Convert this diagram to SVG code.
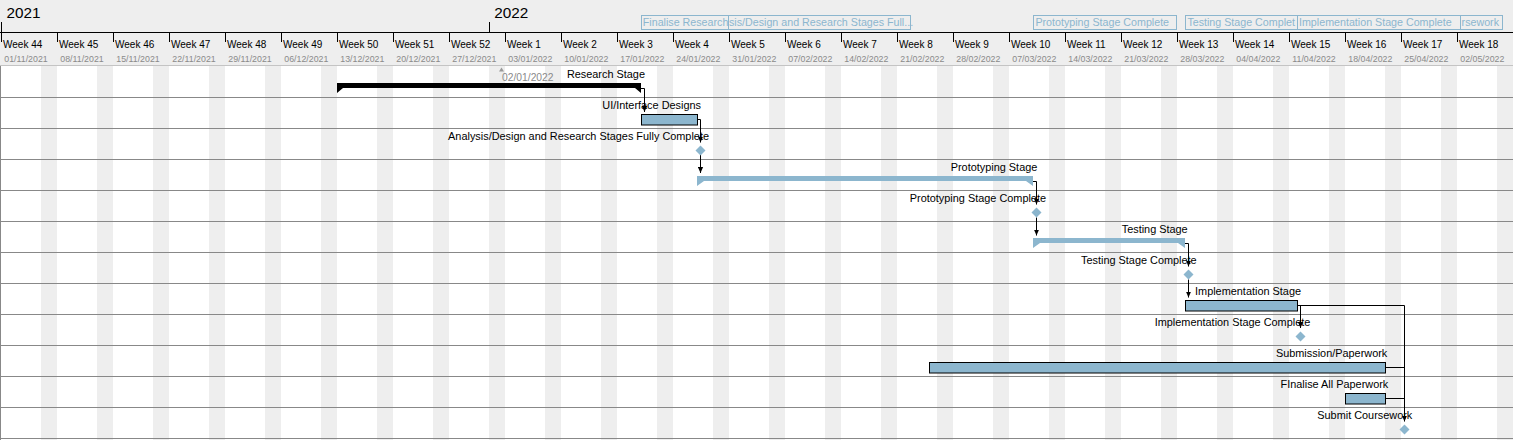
<svg xmlns="http://www.w3.org/2000/svg" width="1513" height="440" viewBox="0 0 1513 440">
<style>
text{font-family:"Liberation Sans",Arial,sans-serif;}
.yr{font-size:15.3px;fill:#000;}
.wk{font-size:10px;fill:#000;}
.dt{font-size:8.8px;fill:#8a8a8a;}
.lbl{font-size:10.9px;fill:#000;text-anchor:end;}
.leg{font-size:10.7px;fill:#8cb6ce;}
.legbox{fill:#eeeeee;stroke:#8cb6ce;stroke-width:1;}
.we{fill:#eeeeee;}
.row{stroke:#888888;stroke-width:1;}
.task{fill:#8cb6ce;stroke:#000;stroke-width:1;}
.sum{fill:#8cb6ce;}
.sumk{fill:#000;}
.ms{fill:#8cb6ce;}
.con{fill:none;stroke:#000;stroke-width:1;}
</style>
<defs>
<marker id="arr" viewBox="0 -3 6 6" refX="6" refY="0" markerWidth="6" markerHeight="6" markerUnits="userSpaceOnUse" orient="auto"><path d="M0,-2.6 L6,0 L0,2.6 Z" fill="#000"/></marker>
</defs>
<rect x="0" y="0" width="1513" height="440" fill="#ffffff"/>
<g id="header">
<rect x="0" y="0" width="1513" height="65" fill="#eeeeee"/>
<text class="yr" x="6.5" y="18.3">2021</text>
<text class="yr" x="494.3" y="18.3">2022</text>
<path d="M1.5,22 V32 M489.5,22 V32" stroke="#000" stroke-width="1"/>
<line x1="0" y1="32.5" x2="1513" y2="32.5" stroke="#000" stroke-width="1"/>
<path d="M1.5,32 V42 M57.5,32 V42 M113.5,32 V42 M169.5,32 V42 M225.5,32 V42 M281.5,32 V42 M337.5,32 V42 M393.5,32 V42 M449.5,32 V42 M505.5,32 V42 M561.5,32 V42 M617.5,32 V42 M673.5,32 V42 M729.5,32 V42 M785.5,32 V42 M841.5,32 V42 M897.5,32 V42 M953.5,32 V42 M1009.5,32 V42 M1065.5,32 V42 M1121.5,32 V42 M1177.5,32 V42 M1233.5,32 V42 M1289.5,32 V42 M1345.5,32 V42 M1401.5,32 V42 M1457.5,32 V42" stroke="#000" stroke-width="1"/>
<text class="wk" x="3" y="48">Week 44</text>
<text class="wk" x="59" y="48">Week 45</text>
<text class="wk" x="115" y="48">Week 46</text>
<text class="wk" x="171" y="48">Week 47</text>
<text class="wk" x="227" y="48">Week 48</text>
<text class="wk" x="283" y="48">Week 49</text>
<text class="wk" x="339" y="48">Week 50</text>
<text class="wk" x="395" y="48">Week 51</text>
<text class="wk" x="451" y="48">Week 52</text>
<text class="wk" x="507" y="48">Week 1</text>
<text class="wk" x="563" y="48">Week 2</text>
<text class="wk" x="619" y="48">Week 3</text>
<text class="wk" x="675" y="48">Week 4</text>
<text class="wk" x="731" y="48">Week 5</text>
<text class="wk" x="787" y="48">Week 6</text>
<text class="wk" x="843" y="48">Week 7</text>
<text class="wk" x="899" y="48">Week 8</text>
<text class="wk" x="955" y="48">Week 9</text>
<text class="wk" x="1011" y="48">Week 10</text>
<text class="wk" x="1067" y="48">Week 11</text>
<text class="wk" x="1123" y="48">Week 12</text>
<text class="wk" x="1179" y="48">Week 13</text>
<text class="wk" x="1235" y="48">Week 14</text>
<text class="wk" x="1291" y="48">Week 15</text>
<text class="wk" x="1347" y="48">Week 16</text>
<text class="wk" x="1403" y="48">Week 17</text>
<text class="wk" x="1459" y="48">Week 18</text>
<text class="dt" x="4.3" y="62">01/11/2021</text>
<text class="dt" x="60.3" y="62">08/11/2021</text>
<text class="dt" x="116.3" y="62">15/11/2021</text>
<text class="dt" x="172.3" y="62">22/11/2021</text>
<text class="dt" x="228.3" y="62">29/11/2021</text>
<text class="dt" x="284.3" y="62">06/12/2021</text>
<text class="dt" x="340.3" y="62">13/12/2021</text>
<text class="dt" x="396.3" y="62">20/12/2021</text>
<text class="dt" x="452.3" y="62">27/12/2021</text>
<text class="dt" x="508.3" y="62">03/01/2022</text>
<text class="dt" x="564.3" y="62">10/01/2022</text>
<text class="dt" x="620.3" y="62">17/01/2022</text>
<text class="dt" x="676.3" y="62">24/01/2022</text>
<text class="dt" x="732.3" y="62">31/01/2022</text>
<text class="dt" x="788.3" y="62">07/02/2022</text>
<text class="dt" x="844.3" y="62">14/02/2022</text>
<text class="dt" x="900.3" y="62">21/02/2022</text>
<text class="dt" x="956.3" y="62">28/02/2022</text>
<text class="dt" x="1012.3" y="62">07/03/2022</text>
<text class="dt" x="1068.3" y="62">14/03/2022</text>
<text class="dt" x="1124.3" y="62">21/03/2022</text>
<text class="dt" x="1180.3" y="62">28/03/2022</text>
<text class="dt" x="1236.3" y="62">04/04/2022</text>
<text class="dt" x="1292.3" y="62">11/04/2022</text>
<text class="dt" x="1348.3" y="62">18/04/2022</text>
<text class="dt" x="1404.3" y="62">25/04/2022</text>
<text class="dt" x="1460.3" y="62">02/05/2022</text>
<line x1="0" y1="65.5" x2="1513" y2="65.5" stroke="#c4c4c4" stroke-width="1"/>
</g>
<g id="legend">
<rect class="legbox" x="641.5" y="15.5" width="87" height="14"/>
<text class="leg" x="642.8" y="26.3">Finalise Research</text>
<rect class="legbox" x="728.5" y="15.5" width="182" height="14"/>
<text class="leg" x="729" y="26.3">sis/Design and Research Stages Full...</text>
<rect class="legbox" x="1033.5" y="15.5" width="143" height="14"/>
<text class="leg" x="1035.4" y="26.3">Prototyping Stage Complete</text>
<rect class="legbox" x="1185.5" y="15.5" width="112" height="14"/>
<text class="leg" x="1187.4" y="26.3">Testing Stage Complet</text>
<rect class="legbox" x="1297.5" y="15.5" width="163" height="14"/>
<text class="leg" x="1299" y="26.3">Implementation Stage Complete</text>
<rect class="legbox" x="1460.5" y="15.5" width="42" height="14"/>
<text class="leg" x="1461.6" y="26.3">rsework</text>
</g>
<g id="grid">
<rect class="we" x="41" y="66" width="16" height="374"/>
<rect class="we" x="97" y="66" width="16" height="374"/>
<rect class="we" x="153" y="66" width="16" height="374"/>
<rect class="we" x="209" y="66" width="16" height="374"/>
<rect class="we" x="265" y="66" width="16" height="374"/>
<rect class="we" x="321" y="66" width="16" height="374"/>
<rect class="we" x="377" y="66" width="16" height="374"/>
<rect class="we" x="433" y="66" width="16" height="374"/>
<rect class="we" x="489" y="66" width="16" height="374"/>
<rect class="we" x="545" y="66" width="16" height="374"/>
<rect class="we" x="601" y="66" width="16" height="374"/>
<rect class="we" x="657" y="66" width="16" height="374"/>
<rect class="we" x="713" y="66" width="16" height="374"/>
<rect class="we" x="769" y="66" width="16" height="374"/>
<rect class="we" x="825" y="66" width="16" height="374"/>
<rect class="we" x="881" y="66" width="16" height="374"/>
<rect class="we" x="937" y="66" width="16" height="374"/>
<rect class="we" x="993" y="66" width="16" height="374"/>
<rect class="we" x="1049" y="66" width="16" height="374"/>
<rect class="we" x="1105" y="66" width="16" height="374"/>
<rect class="we" x="1161" y="66" width="16" height="374"/>
<rect class="we" x="1217" y="66" width="16" height="374"/>
<rect class="we" x="1273" y="66" width="16" height="374"/>
<rect class="we" x="1329" y="66" width="16" height="374"/>
<rect class="we" x="1385" y="66" width="16" height="374"/>
<rect class="we" x="1441" y="66" width="16" height="374"/>
<rect class="we" x="1497" y="66" width="16" height="374"/>
<line class="row" x1="0.5" y1="66" x2="0.5" y2="440"/>
<line class="row" x1="0" y1="97.5" x2="1513" y2="97.5"/>
<line class="row" x1="0" y1="128.5" x2="1513" y2="128.5"/>
<line class="row" x1="0" y1="159.5" x2="1513" y2="159.5"/>
<line class="row" x1="0" y1="190.5" x2="1513" y2="190.5"/>
<line class="row" x1="0" y1="221.5" x2="1513" y2="221.5"/>
<line class="row" x1="0" y1="252.5" x2="1513" y2="252.5"/>
<line class="row" x1="0" y1="283.5" x2="1513" y2="283.5"/>
<line class="row" x1="0" y1="314.5" x2="1513" y2="314.5"/>
<line class="row" x1="0" y1="345.5" x2="1513" y2="345.5"/>
<line class="row" x1="0" y1="376.5" x2="1513" y2="376.5"/>
<line class="row" x1="0" y1="407.5" x2="1513" y2="407.5"/>
<line class="row" x1="0" y1="438.5" x2="1513" y2="438.5"/>
</g>
<g id="date-marker">
<path d="M499,71.5 L504,71.5 L501.5,67.5 Z" fill="#9a9a9a"/>
<text x="502" y="81" font-size="10.3" fill="#8a8a8a">02/01/2022</text>
</g>
<g id="connectors">
<path class="con" d="M641,88.5 H644.5 V112" marker-end="url(#arr)"/>
<path class="con" d="M698,119.5 H700.5 V142.5" marker-end="url(#arr)"/>
<path class="con" d="M700.5,155 V173" marker-end="url(#arr)"/>
<path class="con" d="M1033,181.5 H1036.5 V204.5" marker-end="url(#arr)"/>
<path class="con" d="M1036.5,217.5 V235.5" marker-end="url(#arr)"/>
<path class="con" d="M1185,243.5 H1188.5 V266.5" marker-end="url(#arr)"/>
<path class="con" d="M1188.5,279.5 V297.5" marker-end="url(#arr)"/>
<path class="con" d="M1298,305.5 H1300.5 V328" marker-end="url(#arr)"/>
<path class="con" d="M1298,305.5 H1404.5 V421.5" marker-end="url(#arr)"/>
<path class="con" d="M1386,367.5 H1404.5"/>
<path class="con" d="M1386,398.5 H1404.5"/>
</g>
<g id="task-research">
<path class="sumk" d="M337,83 H641 V93 L635,88 H343 L337,93 Z"/>
<text class="lbl" x="645" y="77.8">Research Stage</text>
</g>
<g id="task-ui">
<rect class="task" x="641.5" y="114.5" width="56" height="10.5"/>
<text class="lbl" x="701" y="108.5">UI/Interface Designs</text>
</g>
<g id="ms-analysis">
<path class="ms" d="M700.5,145.5 L705.5,150.5 L700.5,155.5 L695.5,150.5 Z"/>
<text class="lbl" x="709" y="139.8">Analysis/Design and Research Stages Fully Complete</text>
</g>
<g id="task-prototyping">
<path class="sum" d="M697,176 H1033 V186 L1026,181 H704 L697,186 Z"/>
<text class="lbl" x="1037.3" y="170.7">Prototyping Stage</text>
</g>
<g id="ms-prototyping">
<path class="ms" d="M1036.5,207.5 L1041.5,212.5 L1036.5,217.5 L1031.5,212.5 Z"/>
<text class="lbl" x="1046" y="201.7">Prototyping Stage Complete</text>
</g>
<g id="task-testing">
<path class="sum" d="M1033,238 H1185 V248 L1178,243 H1040 L1033,248 Z"/>
<text class="lbl" x="1187.7" y="232.7">Testing Stage</text>
</g>
<g id="ms-testing">
<path class="ms" d="M1188.5,269.5 L1193.5,274.5 L1188.5,279.5 L1183.5,274.5 Z"/>
<text class="lbl" x="1196.7" y="263.5">Testing Stage Complete</text>
</g>
<g id="task-implementation">
<rect class="task" x="1185.5" y="300.5" width="112" height="10.5"/>
<text class="lbl" x="1301" y="295">Implementation Stage</text>
</g>
<g id="ms-implementation">
<path class="ms" d="M1300.5,331.5 L1305.5,336.5 L1300.5,341.5 L1295.5,336.5 Z"/>
<text class="lbl" x="1310.3" y="325.7">Implementation Stage Complete</text>
</g>
<g id="task-submission">
<rect class="task" x="929.5" y="362.5" width="456" height="10.5"/>
<text class="lbl" x="1387.3" y="356.7">Submission/Paperwork</text>
</g>
<g id="task-finalise">
<rect class="task" x="1345.5" y="393.5" width="40" height="10.5"/>
<text class="lbl" x="1388.3" y="387.7">FInalise All Paperwork</text>
</g>
<g id="ms-submit">
<path class="ms" d="M1404.5,424.5 L1409.5,429.5 L1404.5,434.5 L1399.5,429.5 Z"/>
<text class="lbl" x="1412.3" y="418.7">Submit Coursework</text>
</g>
</svg>
